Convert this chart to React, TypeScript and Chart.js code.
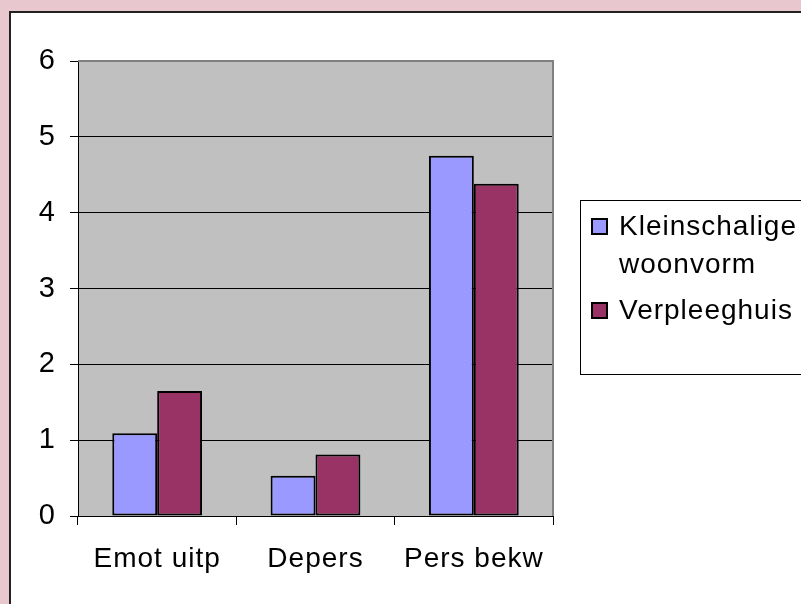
import React, { useEffect, useRef } from "react";
import { Chart, registerables } from "chart.js";

Chart.register(...registerables);

const categories = ["Emot uitp", "Depers", "Pers bekw"];
const seriesNames = ["Kleinschalige woonvorm", "Verpleeghuis"];
const kleinschaligValues = [1.09, 0.53, 4.75];
const verpleeghuisValues = [1.65, 0.81, 4.38];
const seriesColors = ["#9999FF", "#993366"];
const yTicks = [0, 1, 2, 3, 4, 5, 6];

const FONT = "Liberation Sans, Arial, sans-serif";

const framePlugin = {
  id: "frame",
  beforeLayout(chart: any) {
    (chart.ctx as any).letterSpacing = "1px";
  },
  beforeDraw(chart: any) {
    const ctx = chart.ctx;
    const { width, height, chartArea } = chart;
    ctx.save();
    ctx.fillStyle = "#E8C8CE";
    ctx.fillRect(0, 0, width, height);
    ctx.fillStyle = "#FFFFFF";
    ctx.fillRect(10, 12, width - 10, height - 12);
    ctx.strokeStyle = "#222222";
    ctx.lineWidth = 2;
    ctx.beginPath();
    ctx.moveTo(10, height + 2);
    ctx.lineTo(10, 12);
    ctx.lineTo(width + 2, 12);
    ctx.stroke();
    ctx.fillStyle = "#C0C0C0";
    ctx.fillRect(chartArea.left, chartArea.top, chartArea.right - chartArea.left, chartArea.bottom - chartArea.top);
    ctx.restore();
    (ctx as any).letterSpacing = "1px";
  },
  beforeDatasetsDraw(chart: any) {
    const ctx = chart.ctx;
    const { chartArea } = chart;
    ctx.save();
    ctx.strokeStyle = "#808080";
    ctx.lineWidth = 2;
    ctx.beginPath();
    ctx.moveTo(chartArea.left, chartArea.top);
    ctx.lineTo(chartArea.right, chartArea.top);
    ctx.lineTo(chartArea.right, chartArea.bottom);
    ctx.stroke();
    ctx.restore();
  },
  afterDraw(chart: any) {
    const ctx = chart.ctx;
    ctx.save();
    (ctx as any).letterSpacing = "1px";
    ctx.strokeStyle = "#000000";
    ctx.lineWidth = 1;
    ctx.strokeRect(580.5, 200.5, 260, 174);
    ctx.font = `28px ${FONT}`;
    ctx.textBaseline = "alphabetic";
    ctx.textAlign = "left";
    const textX = 619;
    const maxW = chart.width - textX;
    let baseline = 235;
    chart.data.datasets.forEach((ds: any, i: number) => {
      const words = String(ds.label).split(" ");
      const lines: string[] = [];
      let cur = "";
      words.forEach((w) => {
        const t = cur ? cur + " " + w : w;
        if (cur && ctx.measureText(t).width > maxW) {
          lines.push(cur);
          cur = w;
        } else cur = t;
      });
      if (cur) lines.push(cur);
      ctx.fillStyle = ds.backgroundColor;
      ctx.fillRect(592, baseline - 16, 15, 15);
      ctx.strokeStyle = "#000";
      ctx.lineWidth = 2;
      ctx.strokeRect(592, baseline - 16, 15, 15);
      ctx.fillStyle = "#000";
      lines.forEach((ln, j) => {
        ctx.fillText(ln, textX, baseline + j * 38);
      });
      baseline += (lines.length - 1) * 38 + 46;
    });
    ctx.restore();
  },
};

export default function App() {
  const ref = useRef<HTMLCanvasElement | null>(null);
  useEffect(() => {
    if (!ref.current) return;
    const chart = new Chart(ref.current, {
      type: "bar",
      data: {
        labels: categories,
        datasets: [
          {
            label: seriesNames[0],
            data: kleinschaligValues,
            backgroundColor: seriesColors[0],
            borderColor: "#000",
            borderWidth: 2,
            borderSkipped: false,
            categoryPercentage: 0.567,
            barPercentage: 1,
          },
          {
            label: seriesNames[1],
            data: verpleeghuisValues,
            backgroundColor: seriesColors[1],
            borderColor: "#000",
            borderWidth: 2,
            borderSkipped: false,
            categoryPercentage: 0.567,
            barPercentage: 1,
          },
        ],
      },
      options: {
        animation: false,
        responsive: false,
        devicePixelRatio: 1,
        layout: { padding: { left: 10, top: 61, right: 248, bottom: 18 } },
        plugins: { legend: { display: false }, tooltip: { enabled: false } },
        scales: {
          y: {
            min: 0,
            max: 6,
            afterBuildTicks(scale: any) {
              scale.ticks = yTicks.map((v) => ({ value: v }));
            },
            afterFit(scale: any) {
              scale.width = 68;
            },
            ticks: {
              color: "#000",
              font: { family: FONT, size: 29 },
              padding: 14,
            },
            grid: {
              color: (c: any) => (c.tick && c.tick.value === 6 ? "#808080" : "#000"),
              tickColor: "#000",
              lineWidth: 1,
              tickLength: 8,
            },
            border: { display: true, color: "#000", width: 1 },
          },
          x: {
            afterFit(scale: any) {
              scale.height = 70;
            },
            ticks: {
              color: "#000",
              font: { family: FONT, size: 28 },
              padding: 17,
            },
            grid: {
              offset: true,
              drawOnChartArea: false,
              color: "#000",
              tickLength: 9,
              lineWidth: 1,
            },
            border: { display: true, color: "#000", width: 1 },
          },
        },
      },
      plugins: [framePlugin],
    });
    return () => chart.destroy();
  }, []);
  return (
    <div style={{ position: "fixed", left: 0, top: 0, width: 801, height: 604 }}>
      <canvas ref={ref} width={801} height={604} style={{ display: "block" }} />
    </div>
  );
}
